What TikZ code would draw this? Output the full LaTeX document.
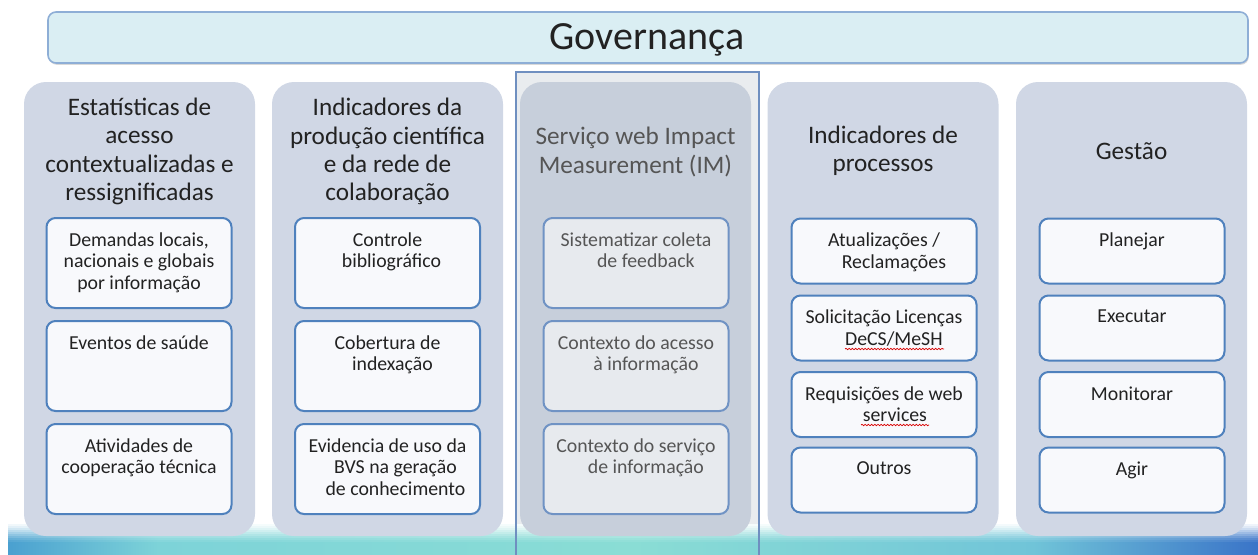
\documentclass[tikz,border=0pt]{standalone}
\usepackage{fontspec}
\setmainfont{Carlito}
\usetikzlibrary{shadows,decorations.pathmorphing}
\definecolor{govfill}{HTML}{DAEEF3}
\definecolor{govdraw}{HTML}{8EAED6}
\definecolor{colfill}{HTML}{D0D7E5}
\definecolor{colfillB}{HTML}{C7CFDB}
\definecolor{boxdraw}{HTML}{4F81BD}
\definecolor{boxdrawB}{HTML}{7093C4}
\definecolor{boxfill}{HTML}{F8F9FC}
\definecolor{boxfillB}{HTML}{E7EAEE}
\definecolor{txt}{HTML}{222222}
\definecolor{txtB}{HTML}{555555}
\definecolor{hlfill}{HTML}{E9ECEF}
\definecolor{hldraw}{HTML}{6F8FC0}
\definecolor{bA}{HTML}{4AA0D0}
\definecolor{bB}{HTML}{7DD3D8}
\definecolor{bC}{HTML}{8ADDD5}
\definecolor{bD}{HTML}{70C4D8}
\definecolor{bE}{HTML}{3A74C8}
\tikzset{
  gov/.style={draw=govdraw, line width=0.8pt, fill=govfill, rounded corners=4pt,
    minimum width=600pt, minimum height=25.5pt, inner sep=0pt,
    drop shadow={opacity=0.3, shadow xshift=0.4pt, shadow yshift=-0.9pt}},
  govtxt/.style={inner sep=0pt, text=txt, font=\fontsize{20}{24}\selectfont},
  col/.style={fill=colfill, rounded corners=11pt, minimum width=115.5pt,
    minimum height=227pt, inner sep=0pt},
  colB/.style={col, fill=colfillB},
  hdr/.style={align=center, inner sep=0pt, text=txt,
    font=\fontsize{12.6}{14.1}\selectfont},
  hdrB/.style={hdr, text=txtB},
  box/.style={draw=boxdraw, line width=1pt, fill=boxfill, rounded corners=4.5pt,
    minimum width=92.5pt, inner sep=0pt},
  tallbox/.style={box, minimum height=45pt},
  shortbox/.style={box, minimum height=32.5pt},
  tallboxB/.style={tallbox, draw=boxdrawB, fill=boxfillB},
  btxt/.style={align=center, inner sep=0pt, text=txt, anchor=north,
    font=\fontsize{9.9}{10.8}\selectfont},
  btxtB/.style={btxt, text=txtB},
  squig/.style={draw=red!85!black, line width=0.35pt, decorate,
    decoration={snake, amplitude=0.35pt, segment length=1.6pt}}
}
\begin{document}
\begin{tikzpicture}[x=0.5pt, y=-0.5pt]
\useasboundingbox (0,0) rectangle (1258,554);
% highlight frame of column 3 (fill)
\fill[hlfill] (516,72) rectangle (759,560);
% bottom band: opaque strips, each mixed with white, fading in from the top
\foreach \i/\p in {0/8,1/16,2/26,3/38,4/50,5/62,6/74,7/85,8/93,9/100}{
  \colorlet{sA}{bA!\p!white}\colorlet{sB}{bB!\p!white}\colorlet{sC}{bC!\p!white}
  \colorlet{sD}{bD!\p!white}\colorlet{sE}{bE!\p!white}
  \pgfdeclarehorizontalshading{bandstrip}{100bp}{color(0bp)=(sA); color(25bp)=(sA); color(31bp)=(sB); color(50bp)=(sC); color(66bp)=(sD); color(75bp)=(sE); color(100bp)=(sE)}
  \fill[shading=bandstrip] (8,524+2*\i) rectangle (1258,556);
}
% governance bar
\node[gov] (gov) at (648,37.5) {};
\node[govtxt] (govt) at (647,40) {Governança};
% columns
\node[col]  (c1) at (139.5,309) {};
\node[col]  (c2) at (387.5,309) {};
\node[colB] (c3) at (635.5,309) {};
\node[col]  (c4) at (883,309) {};
\node[col]  (c5) at (1131.5,309) {};
\draw[hldraw, line width=0.6pt] (516,560) -- (516,72) -- (759,72) -- (759,560);
% headers
\node[hdr]  (h1) at (139.5,151.5) {Estatísticas de\\acesso\\contextualizadas e\\ressignificadas};
\node[hdr]  (h2) at (387.5,151.5) {Indicadores da\\produção científica\\e da rede de\\colaboração};
\node[hdrB] (h3) at (635.5,152) {Serviço web Impact\\Measurement (IM)};
\node[hdr]  (h4) at (883,150.5) {Indicadores de\\processos};
\node[hdr]  (h5) at (1131.5,151) {Gestão};
% column 1
\node[tallbox] (b11) at (139,263) {};
\node[tallbox] (b12) at (139,366) {};
\node[tallbox] (b13) at (139,469) {};
\node[btxt] (t11) at ([yshift=-7.5pt]b11.north) {Demandas locais,\\nacionais e globais\\por informação};
\node[btxt] (t12) at ([yshift=-7.5pt]b12.north) {Eventos de saúde};
\node[btxt] (t13) at ([yshift=-7.5pt]b13.north) {Atividades de\\cooperação técnica};
% column 2
\node[tallbox] (b21) at (387.5,263) {};
\node[tallbox] (b22) at (387.5,366) {};
\node[tallbox] (b23) at (387.5,469) {};
\node[btxt] (t21) at ([yshift=-7.5pt]b21.north) {Controle\\\hspace*{0.4em}bibliográfico};
\node[btxt] (t22) at ([yshift=-7.5pt]b22.north) {Cobertura de\\\hspace*{0.5em}indexação};
\node[btxt] (t23) at ([yshift=-7.5pt]b23.north) {Evidencia de uso da\\\hspace*{0.8em}BVS na geração\\\hspace*{0.8em}de conhecimento};
% column 3
\node[tallboxB] (b31) at (636,263) {};
\node[tallboxB] (b32) at (636,366) {};
\node[tallboxB] (b33) at (636,469) {};
\node[btxtB] (t31) at ([yshift=-7.5pt]b31.north) {Sistematizar coleta\\\hspace*{1em}de feedback};
\node[btxtB] (t32) at ([yshift=-7.5pt]b32.north) {Contexto do acesso\\\hspace*{1em}à informação};
\node[btxtB] (t33) at ([yshift=-7.5pt]b33.north) {Contexto do serviço\\\hspace*{1em}de informação};
% column 4
\node[shortbox] (b41) at (884,251) {};
\node[shortbox] (b42) at (884,328) {};
\node[shortbox] (b43) at (884,404.5) {};
\node[shortbox] (b44) at (884,480) {};
\node[btxt] (t41) at ([yshift=-7.5pt]b41.north) {Atualizações /\\\hspace*{1em}Reclamações};
\node[btxt] (t42) at ([yshift=-7.5pt]b42.north) {Solicitação Licenças\\\hspace*{1em}DeCS/MeSH};
\node[btxt] (t43) at ([yshift=-7.5pt]b43.north) {Requisições de web\\\hspace*{1.1em}services};
\node[btxt] (t44) at ([yshift=-7.5pt]b44.north) {Outros};
\draw[squig] (845,349) -- (944,349);
\draw[squig] (861,425) -- (929,425);
% column 5
\node[shortbox] (b51) at (1132,251) {};
\node[shortbox] (b52) at (1132,328) {};
\node[shortbox] (b53) at (1132,404.5) {};
\node[shortbox] (b54) at (1132,480) {};
\node[btxt] (t51) at ([yshift=-7.5pt]b51.north) {Planejar};
\node[btxt] (t52) at ([yshift=-7.5pt]b52.north) {Executar};
\node[btxt] (t53) at ([yshift=-7.5pt]b53.north) {Monitorar};
\node[btxt] (t54) at ([yshift=-7.5pt]b54.north) {Agir};
\end{tikzpicture}
\end{document}
